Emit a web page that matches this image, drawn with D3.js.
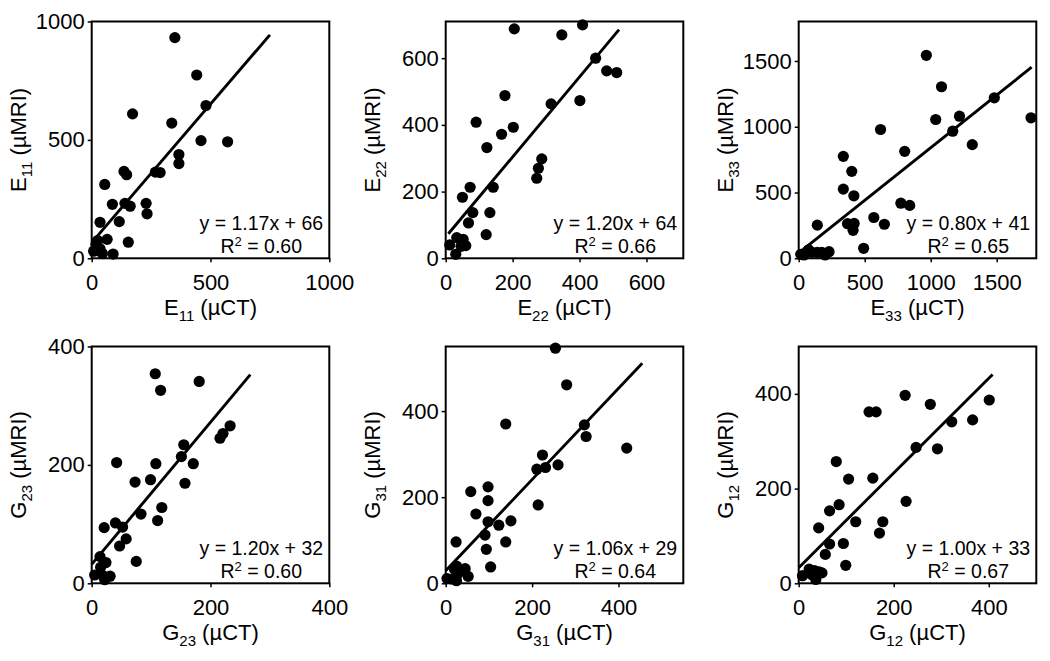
<!DOCTYPE html>
<html>
<head>
<meta charset="utf-8">
<script src="https://cdn.jsdelivr.net/npm/d3@7"></script>
<style>
  html, body { margin: 0; padding: 0; background: #fff; }
  svg { display: block; }
  text { font-family: "Liberation Sans", Arial, Helvetica, sans-serif; fill: #000; }
</style>
</head>
<body>
<svg id="chart" width="1050" height="661"></svg>
<script>
// ---------- data ----------
const E11 = [[350,932],[442,774],[481,645],[172,610],[337,571],[460,497],[572,492],[367,438],[367,400],[268,364],[288,362],[136,367],[147,353],[55,312],[87,228],[140,232],[162,220],[229,232],[233,188],[116,155],[35,152],[65,80],[154,68],[90,18],[8,30],[25,75],[35,40],[45,20],[18,58]];
const E22 = [[205,688],[409,700],[347,670],[448,600],[481,562],[511,557],[177,488],[315,463],[401,473],[91,408],[167,372],[202,393],[123,332],[287,298],[277,270],[272,240],[73,213],[142,213],[50,183],[81,137],[132,137],[68,106],[121,71],[12,40],[33,62],[52,57],[46,36],[60,38],[30,12]];
const E33 = [[967,1543],[1082,1304],[1482,1220],[1038,1055],[1218,1080],[1760,1068],[1167,966],[1315,864],[620,979],[803,813],[338,775],[402,661],[338,526],[418,475],[774,419],[841,402],[569,310],[649,259],[370,263],[420,265],[412,213],[492,76],[141,252],[15,30],[40,25],[75,65],[100,45],[140,45],[175,45],[200,25],[230,50]];
const G23 = [[107,354],[116,326],[181,341],[233,266],[221,253],[216,245],[155,234],[151,214],[171,202],[108,202],[42,204],[99,175],[73,171],[157,169],[83,117],[118,128],[111,106],[40,102],[52,95],[21,94],[47,63],[58,75],[75,37],[14,45],[24,35],[15,27],[5,14],[19,13],[31,12],[22,6]];
const G31 = [[254,546],[280,461],[139,370],[321,368],[325,341],[419,314],[224,298],[211,265],[231,269],[260,275],[214,182],[98,224],[98,192],[58,213],[70,161],[98,143],[123,135],[151,145],[91,112],[94,79],[139,96],[24,96],[104,38],[3,11],[14,10],[25,6],[20,33],[25,40],[45,34],[52,16],[28,22]];
const G12 = [[224,397],[277,378],[401,387],[148,362],[163,362],[322,341],[366,345],[247,287],[292,284],[79,257],[105,220],[156,222],[65,153],[85,166],[226,173],[120,130],[177,130],[170,106],[42,117],[65,83],[94,84],[56,61],[99,38],[8,16],[22,30],[33,27],[43,24],[49,22],[36,8],[28,18]];

const panelPoints = [E11, E22, E33, G23, G31, G12];
const panelSymbols = ["E", "E", "E", "G", "G", "G"];
const panelSubscripts = ["11", "22", "33", "23", "31", "12"];
const axisMax = [1000, 710, 1800, 400, 550, 500];
const tickValues = [[0,500,1000],[0,200,400,600],[0,500,1000,1500],[0,200,400],[0,200,400],[0,200,400]];
const slopes = [1.17, 1.20, 0.80, 1.20, 1.06, 1.00];
const intercepts = [66, 64, 41, 32, 29, 33];
const rSquared = [0.60, 0.66, 0.65, 0.60, 0.64, 0.67];
const trendRange = [[0,750],[8,518],[20,1765],[0,267],[0,455],[0,408]];

// ---------- layout ----------
const colLeft = [91.7, 445.7, 798.7];
const rowTop = [21.5, 346.5];
const boxW = 237.6, boxH = 236.8;

const svg = d3.select("#chart");

panelPoints.forEach((pts, i) => {
  const col = i % 3, row = Math.floor(i / 3);
  const x0 = colLeft[col], y0 = rowTop[row];
  const g = svg.append("g").attr("transform", `translate(${x0},${y0})`);

  const x = d3.scaleLinear().domain([0, axisMax[i]]).range([0, boxW]);
  const y = d3.scaleLinear().domain([0, axisMax[i]]).range([boxH, 0]);

  // axes
  const xAxis = d3.axisBottom(x).tickValues(tickValues[i]).tickSize(4).tickPadding(12).tickFormat(d3.format("d"));
  const yAxis = d3.axisLeft(y).tickValues(tickValues[i]).tickSize(4).tickPadding(3).tickFormat(d3.format("d"));

  const gx = g.append("g").attr("transform", `translate(0,${boxH})`).call(xAxis);
  const gy = g.append("g").call(yAxis);
  [gx, gy].forEach(a => {
    a.select(".domain").remove();
    a.selectAll(".tick line").attr("stroke", "#000").attr("stroke-width", 1.5);
    a.selectAll(".tick text").style("font-size", "22px").attr("fill", "#000");
  });

  // plot box
  g.append("rect").attr("x", 0).attr("y", 0).attr("width", boxW).attr("height", boxH)
    .attr("fill", "none").attr("stroke", "#000").attr("stroke-width", 2);

  // points
  g.append("g").selectAll("circle").data(pts).join("circle")
    .attr("cx", d => x(d[0])).attr("cy", d => y(d[1])).attr("r", 5.6).attr("fill", "#000");

  // trend line
  const tr = trendRange[i];
  g.append("line")
    .attr("x1", x(tr[0])).attr("y1", y(slopes[i] * tr[0] + intercepts[i]))
    .attr("x2", x(tr[1])).attr("y2", y(slopes[i] * tr[1] + intercepts[i]))
    .attr("stroke", "#000").attr("stroke-width", 2.9);

  // equation
  const eqX = boxW - 68;
  g.append("text").attr("x", eqX).attr("y", boxH - 28).attr("text-anchor", "middle")
    .style("font-size", "19.5px")
    .text(`y = ${slopes[i].toFixed(2)}x + ${intercepts[i]}`);
  const r2 = g.append("text").attr("x", eqX).attr("y", boxH - 5).attr("text-anchor", "middle")
    .style("font-size", "19.5px");
  r2.append("tspan").text("R");
  r2.append("tspan").attr("dy", -7).style("font-size", "13px").text("2");
  r2.append("tspan").attr("dy", 7).text(` = ${rSquared[i].toFixed(2)}`);

  // x title
  const xt = g.append("text").attr("x", boxW / 2).attr("y", boxH + 56.5).attr("text-anchor", "middle")
    .style("font-size", "22px");
  xt.append("tspan").text(panelSymbols[i]);
  xt.append("tspan").attr("dy", 6).style("font-size", "15px").text(panelSubscripts[i]);
  xt.append("tspan").attr("dy", -6).text(" (\u00B5CT)");

  // y title
  const yt = g.append("text").attr("transform", `translate(-66,${boxH / 2}) rotate(-90)`)
    .attr("text-anchor", "middle").style("font-size", "22px");
  yt.append("tspan").text(panelSymbols[i]);
  yt.append("tspan").attr("dy", 6).style("font-size", "15px").text(panelSubscripts[i]);
  yt.append("tspan").attr("dy", -6).text(" (\u00B5MRI)");
});
</script>
</body>
</html>
